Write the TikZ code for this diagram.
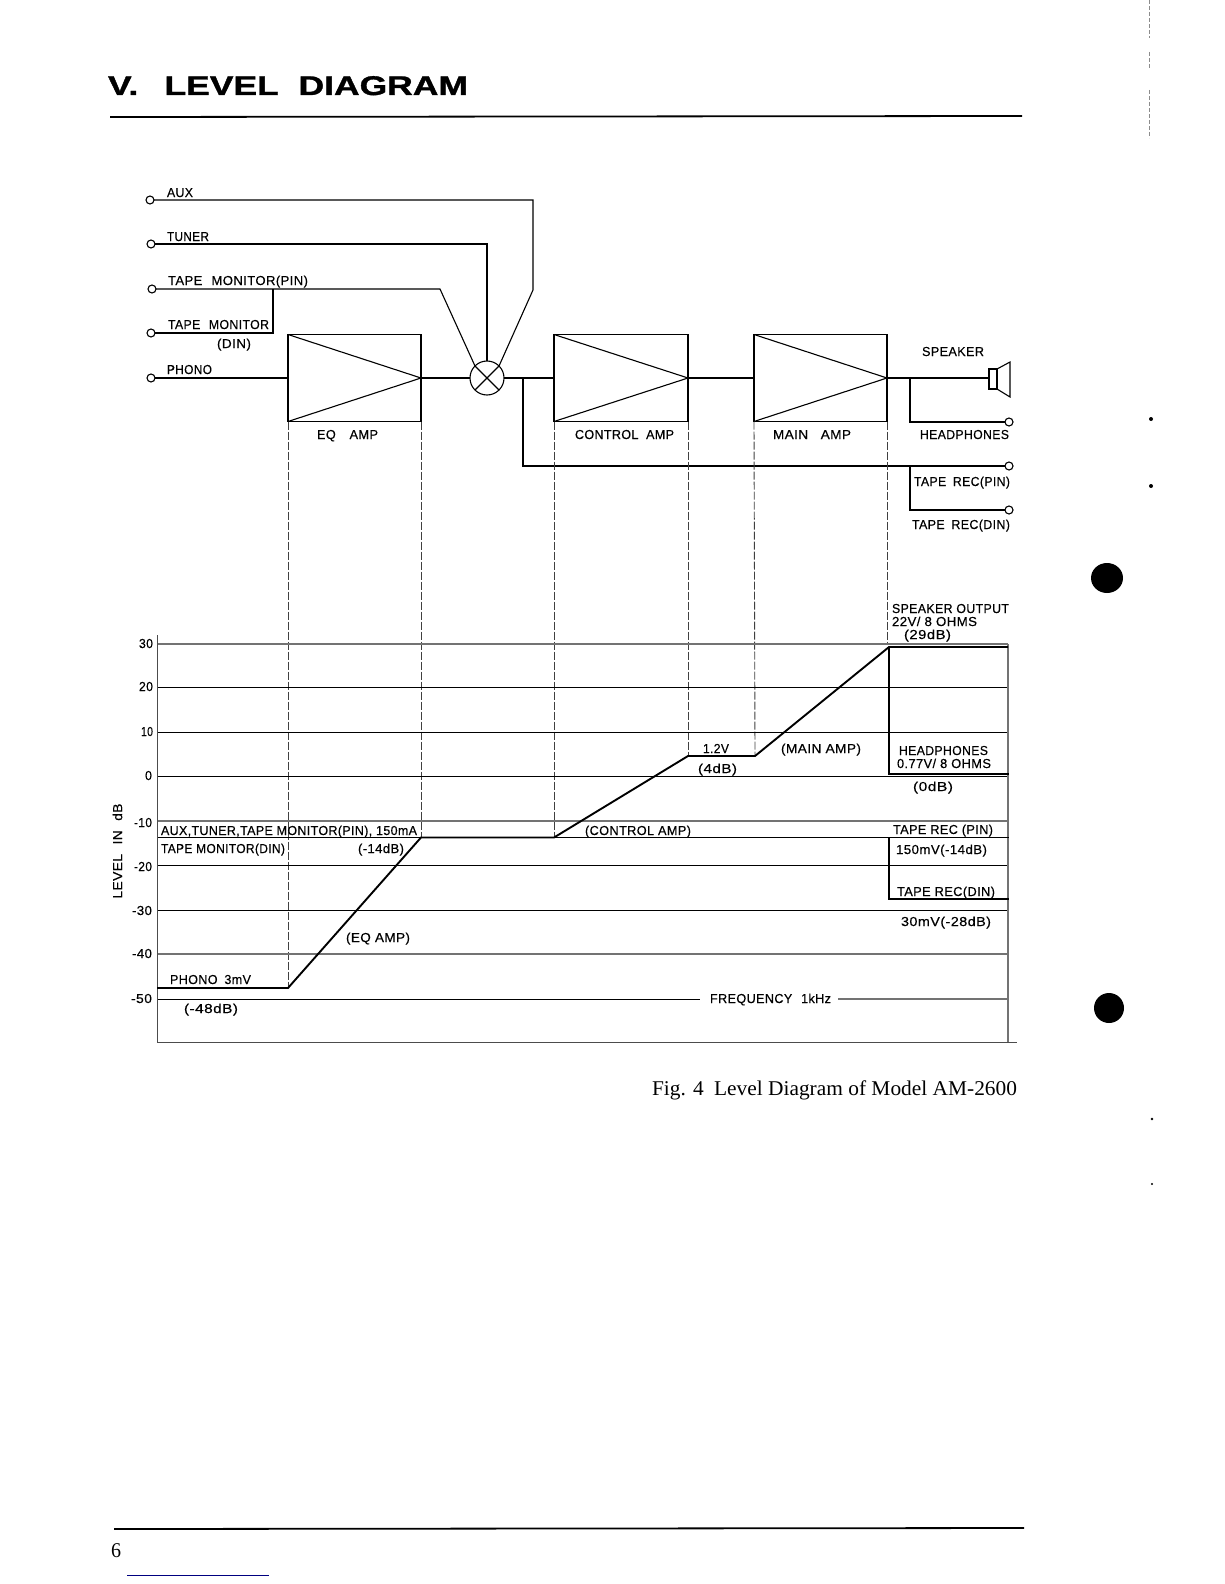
\documentclass[tikz,border=0pt]{standalone}
\usepackage{fontspec}
\setmainfont{Liberation Sans}
\newfontfamily\labfam[LetterSpace=3,FakeBold=0.35]{Liberation Sans}
\newfontfamily\titfam[FakeBold=1.2]{Liberation Sans Bold}
\newfontfamily\serfam{Liberation Serif}
\newcounter{labn}
\newsavebox{\labbox}
\newcommand{\lab}[4]{%
  \stepcounter{labn}%
  \node[labeltext,name=lab\thelabn] at (#1,#3) {%
    \sbox{\labbox}{\fontsize{13}{15}\selectfont\labfam #4}%
    \pgfmathsetmacro{\labsc}{(#2-#1)/\wd\labbox}%
    \scalebox{\labsc}[1]{\usebox{\labbox}}};}
\tikzset{
  labeltext/.style={anchor=base west,inner sep=0pt,outer sep=0pt},
  wire/.style={draw=black,line width=1.1pt,line join=miter},
  term/.style={circle,draw=black,fill=white,line width=1.1pt,minimum size=8pt,inner sep=0pt,outer sep=0pt},
  ampbox/.style={rectangle,draw=black,line width=1.1pt,minimum width=133pt,minimum height=87pt,inner sep=0pt,outer sep=0pt},
  mixer/.style={circle,draw=black,line width=1.1pt,minimum size=34pt,inner sep=0pt,outer sep=0pt},
  guide/.style={draw=black!75,line width=0.9pt,dash pattern=on 8pt off 2pt},
  gridk/.style={draw=black,line width=0.9pt},
  gridg/.style={draw=black!55,line width=1.2pt},
  level/.style={draw=black,line width=1.9pt,line join=miter},
  rulek/.style={draw=black,line width=1.8pt}
}
\begin{document}
\begin{tikzpicture}[x=1pt,y=-1pt]
\useasboundingbox (0,0) rectangle (1224,1584);
% title, rules, page furniture
\lab{108}{468}{95}{\fontsize{27}{30}\selectfont\titfam V.\hspace{20pt}LEVEL\hspace{15pt}DIAGRAM}
\coordinate (ra) at (110,117);\coordinate (rb) at (1022,116);
\draw[rulek] (ra) -- (rb);
\coordinate (rc) at (114,1529);\coordinate (rd) at (1024,1528);
\draw[rulek] (rc) -- (rd);
\lab{111}{121}{1557}{\fontsize{21}{24}\selectfont\serfam 6}
\lab{652}{1017}{1095}{\fontsize{21}{24}\selectfont\serfam Fig. 4\hspace{5pt} Level Diagram of Model AM-2600}
\coordinate (ba) at (127,1575);\coordinate (bb) at (269,1575);
\draw[draw=blue!50!black,line width=1pt] (ba) -- (bb);
% scan marks
\fill[black] (1107,578) ellipse (16 and 15);
\fill[black] (1109,1008) ellipse (15 and 15);
\fill[black] (1151,419) circle (2);
\fill[black] (1151,486) circle (2);
\fill[black] (1152,1119) circle (1.3);
\fill[black] (1152,1184) circle (1.1);
\draw[draw=black!45,line width=0.7pt,dash pattern=on 4pt off 2pt] (1149,0) -- (1149,38) (1149,52) -- (1149,68) (1149,90) -- (1149,138);
% inputs
\node[term] (ta) at (150,200) {};
\node[term] (tt) at (151,244) {};
\node[term] (tp) at (152,289) {};
\node[term] (td) at (151,333) {};
\node[term] (th) at (151,378) {};
\node[ampbox] (eq) at (354.5,378) {};
\node[ampbox,minimum width=134pt] (ctrl) at (621,378) {};
\node[ampbox] (main) at (820.5,378) {};
\node[mixer] (mix) at (487,378) {};
\draw[wire] (mix.north west) -- (mix.south east) (mix.north east) -- (mix.south west);
\foreach \b in {eq,ctrl,main}{\draw[wire] (\b.north west) -- (\b.east) -- (\b.south west);}
\coordinate (a1) at (533,200);\coordinate (a2) at (533,290);
\coordinate (t1) at (487,244);
\coordinate (p1) at (440,289);
\coordinate (d1) at (273,333);\coordinate (d2) at (273,289);
\draw[wire] (ta) -- (a1) -- (a2) -- (mix.north east);
\draw[wire] (tt) -- (t1) -- (mix.north);
\draw[wire] (tp) -- (p1) -- (mix.north west);
\draw[wire] (td) -- (d1) -- (d2);
\draw[wire] (th) -- (eq.west);
\draw[wire] (eq.east) -- (mix.west);
\draw[wire] (mix.east) -- (ctrl.west);
\draw[wire] (ctrl.east) -- (main.west);
% outputs
\node[rectangle,draw=black,line width=1.1pt,minimum width=8pt,minimum height=20pt,inner sep=0pt,outer sep=0pt] (spk) at (993,379) {};
\coordinate (c1) at (1010,362);\coordinate (c2) at (1010,397);
\draw[wire] (spk.north east) -- (c1) -- (c2) -- (spk.south east);
\draw[wire] (main.east) -- (spk.west |- main.east);
\node[term] (oh) at (1009,422) {};
\node[term] (or1) at (1009,466) {};
\node[term] (or2) at (1009,510) {};
\coordinate (b1) at (910,378);\coordinate (b2) at (523,378);\coordinate (b3) at (523,466);\coordinate (b4) at (910,466);
\draw[wire] (b1) |- (oh);
\draw[wire] (b2) -- (b3) -- (or1);
\draw[wire] (b4) |- (or2);
% level curve points
\coordinate (L0) at (157,988);\coordinate (L1) at (288,988);\coordinate (L2) at (421,837.5);
\coordinate (L3) at (554,837.5);\coordinate (L4) at (688,756);\coordinate (L5) at (755,756);
\coordinate (L6) at (889,647);\coordinate (L7) at (1008,647);
\coordinate (G1) at (887,644);
% vertical guides
\draw[guide] (eq.south west) -- (L1);
\draw[guide] (eq.south east) -- (L2);
\draw[guide] (ctrl.south west) -- (L3);
\draw[guide] (ctrl.south east) -- (L4);
\draw[guide] (main.south west) -- (L5);
\draw[guide] (main.south east) -- (G1);
% grid
\foreach \y/\s in {644/gridg,687/gridk,732/gridk,776/gridk,821/gridg,865.5/gridk,910.5/gridk,954/gridg}{
  \draw[\s] (157,\y) -- (1008,\y);}
\coordinate (f0) at (157,999);\coordinate (f1) at (700,999);\coordinate (f2) at (838,999);\coordinate (f3) at (1008,999);
\draw[gridk] (f0) -- (f1);
\draw[gridg] (f2) -- (f3);
\coordinate (ax0) at (157,635);\coordinate (ax1) at (157,1042);\coordinate (ax2) at (1017,1042);\coordinate (ax3) at (1008,644);\coordinate (ax4) at (1008,1042);
\draw[draw=black!70,line width=0.9pt] (ax0) -- (ax1) -- (ax2);
\draw[gridg,line width=1.4pt] (ax3) -- (ax4);
% level curve
\draw[level] (L0) -- (L1) -- (L2) -- (L3) -- (L4) -- (L5) -- (L6) -- (L7);
\coordinate (M0) at (158,837.5);\coordinate (M1) at (1009,837.5);
\draw[level,line width=1.6pt] (M0) -- (M1);
\coordinate (V1) at (889,774);\coordinate (V2) at (1009,774);
\draw[level] (L6) -- (V1) -- (V2);
\coordinate (V3) at (889,837.5);\coordinate (V4) at (889,899);\coordinate (V5) at (1009,899);
\draw[level] (V3) -- (V4) -- (V5);
% block labels
\lab{167}{193}{197}{AUX}
\lab{167}{209}{241}{TUNER}
\lab{168}{308}{285}{TAPE\hspace{5pt} MONITOR(PIN)}
\lab{168}{269}{329}{TAPE\hspace{5pt} MONITOR}
\lab{217}{251}{348}{(DIN)}
\lab{167}{212}{374}{PHONO}
\lab{317}{378}{439}{EQ\hspace{10pt} AMP}
\lab{575}{674}{439}{CONTROL\hspace{4pt} AMP}
\lab{773}{851}{439}{MAIN\hspace{8pt} AMP}
\lab{922}{984}{356}{SPEAKER}
\lab{920}{1009}{439}{HEADPHONES}
\lab{914}{1010}{486}{TAPE\hspace{3pt} REC(PIN)}
\lab{912}{1010}{529}{TAPE\hspace{3pt} REC(DIN)}
\lab{892}{1009}{613}{SPEAKER OUTPUT}
\lab{892}{977}{626}{22V/ 8 OHMS}
\lab{904}{951}{639}{(29dB)}
% axis numbers
\lab{139}{153}{648}{30}
\lab{139}{153}{691}{20}
\lab{141}{153}{736}{10}
\lab{145}{152}{780}{0}
\lab{134}{152}{827}{-10}
\lab{134}{152}{871}{-20}
\lab{132}{152}{915}{-30}
\lab{132}{152}{958}{-40}
\lab{131}{152}{1003}{-50}
\node[inner sep=0pt,outer sep=0pt,rotate=90] (ylab) at (117.5,851) {%
  \sbox{\labbox}{\fontsize{13}{15}\selectfont\labfam LEVEL\hspace{5pt} IN\hspace{5pt} dB}%
  \pgfmathsetmacro{\labsc}{95/\wd\labbox}%
  \scalebox{\labsc}[1]{\usebox{\labbox}}};
% chart labels
\lab{161}{417}{835}{AUX,TUNER,TAPE MONITOR(PIN), 150mA}
\lab{161}{285}{853}{TAPE MONITOR(DIN)}
\lab{358}{404}{853}{(-14dB)}
\lab{346}{410}{942}{(EQ AMP)}
\lab{170}{251}{984}{PHONO\hspace{3pt} 3mV}
\lab{184}{238}{1013}{(-48dB)}
\lab{703}{729}{753}{1.2V}
\lab{698}{737}{773}{(4dB)}
\lab{781}{861}{753}{(MAIN AMP)}
\lab{899}{988}{755}{HEADPHONES}
\lab{897}{991}{768}{0.77V/ 8 OHMS}
\lab{913}{953}{791}{(0dB)}
\lab{585}{691}{835}{(CONTROL AMP)}
\lab{893}{993}{834}{TAPE REC (PIN)}
\lab{896}{987}{854}{150mV(-14dB)}
\lab{897}{995}{896}{TAPE REC(DIN)}
\lab{901}{991}{926}{30mV(-28dB)}
\lab{710}{831}{1003}{FREQUENCY\hspace{5pt} 1kHz}
\end{tikzpicture}
\end{document}
